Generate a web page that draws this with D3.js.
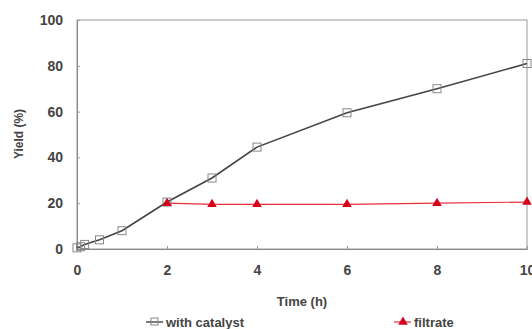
<!DOCTYPE html>
<html><head><meta charset="utf-8">
<script src="https://cdn.jsdelivr.net/npm/d3@7"></script>
<style>body{margin:0;background:#fff}svg{display:block}text{font-family:"Liberation Sans",Arial,sans-serif}</style>
</head><body>
<svg id="c" width="532" height="329"></svg>
<script>
const catTime = [0, 0.08, 0.17, 0.5, 1, 2, 3, 4, 6, 8, 10];
const catYield = [0.5, 1, 2, 4, 8, 20.5, 31, 44.5, 59.5, 70, 81];
const filTime = [2, 3, 4, 6, 8, 10];
const filYield = [20, 19.5, 19.5, 19.5, 20, 20.5];
const xTicks = [0, 2, 4, 6, 8, 10];
const yTicks = [0, 20, 40, 60, 80, 100];

const svg = d3.select("#c");
const x = d3.scaleLinear().domain([0, 10]).range([77, 527]);
const y = d3.scaleLinear().domain([0, 100]).range([249, 20]);

// frame
svg.append("rect").attr("x", 77).attr("y", 20).attr("width", 450).attr("height", 229)
  .attr("fill", "none").attr("stroke", "#999").attr("stroke-width", 1);

const ya = svg.append("g").attr("transform", "translate(77,0)")
  .call(d3.axisLeft(y).tickValues(yTicks).tickSize(-3).tickPadding(14));
ya.select(".domain").attr("stroke", "#888");
ya.selectAll(".tick line").attr("stroke", "#999");
ya.selectAll("text").attr("font-size", 14).attr("font-weight", "bold").attr("fill", "#444");

const xa = svg.append("g").attr("transform", "translate(0,249)")
  .call(d3.axisBottom(x).tickValues(xTicks).tickSize(-3).tickPadding(16));
xa.select(".domain").attr("stroke", "#888");
xa.selectAll(".tick line").attr("stroke", "#999");
xa.selectAll("text").attr("font-size", 14).attr("font-weight", "bold").attr("fill", "#444");

svg.append("text").attr("transform", "translate(23,134) rotate(-90)")
  .attr("text-anchor", "middle").attr("font-size", 12).attr("font-weight", "bold").attr("fill", "#444").text("Yield (%)");
svg.append("text").attr("x", 302).attr("y", 306).attr("text-anchor", "middle")
  .attr("font-size", 13).attr("font-weight", "bold").attr("fill", "#444").text("Time (h)");

const cat = catTime.map((t, i) => [t, catYield[i]]);
const fil = filTime.map((t, i) => [t, filYield[i]]);
const line = d3.line().x(d => x(d[0])).y(d => y(d[1]));

svg.append("path").attr("d", line(fil)).attr("fill", "none").attr("stroke", "#e8303a").attr("stroke-width", 1.2);
svg.append("path").attr("d", line(cat)).attr("fill", "none").attr("stroke", "#444").attr("stroke-width", 1.6);

svg.selectAll(".sq").data(cat).enter().append("rect")
  .attr("x", d => x(d[0]) - 4).attr("y", d => y(d[1]) - 4).attr("width", 8).attr("height", 8)
  .attr("fill", "none").attr("stroke", "#888").attr("stroke-width", 1);

const tri = d3.symbol().type(d3.symbolTriangle).size(40);
svg.selectAll(".tr").data(fil).enter().append("path")
  .attr("d", tri).attr("transform", d => `translate(${x(d[0])},${y(d[1])})`)
  .attr("fill", "#d6001c");

// legend
const lg = svg.append("g");
lg.append("line").attr("x1", 146).attr("x2", 163).attr("y1", 322).attr("y2", 322).attr("stroke", "#444").attr("stroke-width", 1.4);
lg.append("rect").attr("x", 151).attr("y", 318).attr("width", 7).attr("height", 7).attr("fill", "none").attr("stroke", "#888");
lg.append("text").attr("x", 166).attr("y", 327).attr("font-size", 13).attr("font-weight", "bold").attr("fill", "#444").text("with catalyst");
lg.append("line").attr("x1", 394).attr("x2", 411).attr("y1", 322).attr("y2", 322).attr("stroke", "#e8303a").attr("stroke-width", 1.2);
lg.append("path").attr("d", tri).attr("transform", "translate(403,322)").attr("fill", "#d6001c");
lg.append("text").attr("x", 414).attr("y", 327).attr("font-size", 13).attr("font-weight", "bold").attr("fill", "#444").text("filtrate");
</script>
</body></html>
